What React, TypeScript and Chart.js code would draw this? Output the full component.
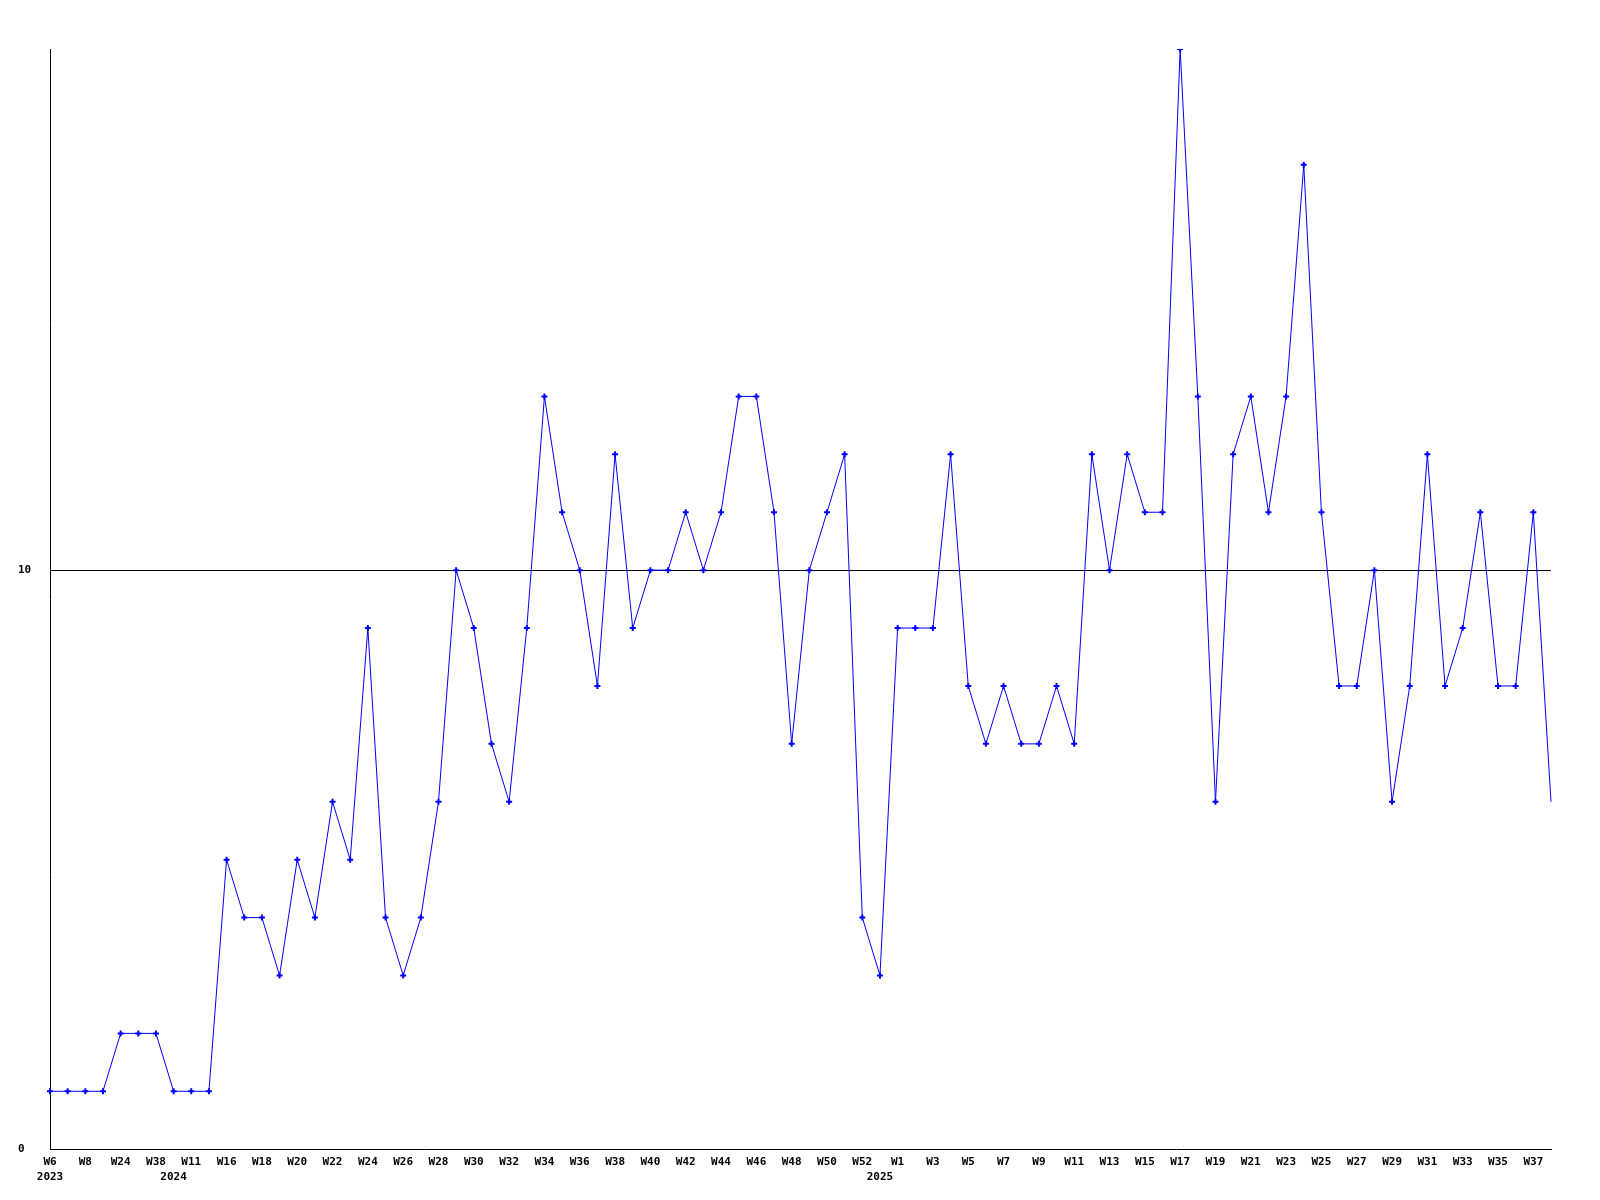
import React, { useEffect, useRef } from "react";
import { Chart, registerables } from "chart.js";

Chart.register(...registerables);

const weeks = [
  "W6", "W7", "W8", "W12", "W24", "W30", "W38", "W45", "W11", "W14",
  "W16", "W17", "W18", "W19", "W20", "W21", "W22", "W23", "W24", "W25",
  "W26", "W27", "W28", "W29", "W30", "W31", "W32", "W33", "W34", "W35",
  "W36", "W37", "W38", "W39", "W40", "W41", "W42", "W43", "W44", "W45",
  "W46", "W47", "W48", "W49", "W50", "W51", "W52", "W53", "W1", "W2",
  "W3", "W4", "W5", "W6", "W7", "W8", "W9", "W10", "W11", "W12",
  "W13", "W14", "W15", "W16", "W17", "W18", "W19", "W20", "W21", "W22",
  "W23", "W24", "W25", "W26", "W27", "W28", "W29", "W30", "W31", "W32",
  "W33", "W34", "W35", "W36", "W37", "W38",
];

// year shown under the category at that index
const yearIndex = [0, 7, 47];
const yearText = ["2023", "2024", "2025"];

const values = [
  1, 1, 1, 1, 2, 2, 2, 1, 1, 1,
  5, 4, 4, 3, 5, 4, 6, 5, 9, 4,
  3, 4, 6, 10, 9, 7, 6, 9, 13, 11,
  10, 8, 12, 9, 10, 10, 11, 10, 11, 13,
  13, 11, 7, 10, 11, 12, 4, 3, 9, 9,
  9, 12, 8, 7, 8, 7, 7, 8, 7, 12,
  10, 12, 11, 11, 19, 13, 6, 12, 13, 11,
  13, 17, 11, 8, 8, 10, 6, 8, 12, 8,
  9, 11, 8, 8, 11, 6,
];

const yTicks = [0, 10];

export default function App() {
  const ref = useRef<HTMLCanvasElement | null>(null);

  useEffect(() => {
    document.body.style.margin = "0";
    const canvas = ref.current;
    if (!canvas) return;
    const font = { family: "'DejaVu Sans Mono', monospace", size: 11, weight: "bold" as const, lineHeight: 1.4 };
    const chart = new Chart(canvas, {
      type: "line",
      data: {
        labels: weeks,
        datasets: [
          {
            data: values,
            borderColor: "#0000ff",
            backgroundColor: "#0000ff",
            borderWidth: 1,
            tension: 0,
            pointStyle: "cross",
            pointRadius: (ctx: any) => (ctx.dataIndex === values.length - 1 ? 0 : 3),
            pointBorderWidth: 2,
            pointBorderColor: "#0000ff",
            fill: false,
          },
        ],
      },
      options: {
        animation: false,
        responsive: false,
        maintainAspectRatio: false,
        layout: { padding: { left: 18, right: 49, top: 49, bottom: 10 } },
        plugins: { legend: { display: false }, tooltip: { enabled: false }, title: { display: false } },
        scales: {
          x: {
            type: "category",
            offset: false,
            grid: { display: false, drawTicks: false },
            border: { display: true, color: "#000", width: 1 },
            ticks: {
              autoSkip: false,
              maxRotation: 0,
              minRotation: 0,
              padding: 5,
              color: "#000",
              font,
              callback: (_v: any, i: number) => {
                const w = i % 2 === 0 ? weeks[i] : "";
                const yi = yearIndex.indexOf(i);
                const y = yi >= 0 ? yearText[yi] : "";
                return [w, y];
              },
            },
          },
          y: {
            min: 0,
            max: 19,
            afterFit: (scale: any) => {
              scale.width = 32;
            },
            afterBuildTicks: (scale: any) => {
              scale.ticks = yTicks.map((v) => ({ value: v }));
            },
            grid: {
              drawTicks: false,
              color: (ctx: any) => (ctx.tick && ctx.tick.value === 10 ? "#000" : "rgba(0,0,0,0)"),
              lineWidth: 1,
            },
            border: { display: true, color: "#000", width: 1 },
            ticks: {
              crossAlign: "far",
              padding: 0,
              color: "#000",
              font: { family: "'DejaVu Sans Mono', monospace", size: 11, weight: "bold" as const },
              callback: (v: any) => String(v),
            },
          },
        },
      },
    });
    return () => chart.destroy();
  }, []);

  return (
    <div style={{ width: 1600, height: 1200, background: "#fff" }}>
      <canvas ref={ref} width={1600} height={1200} style={{ display: "block" }} />
    </div>
  );
}
